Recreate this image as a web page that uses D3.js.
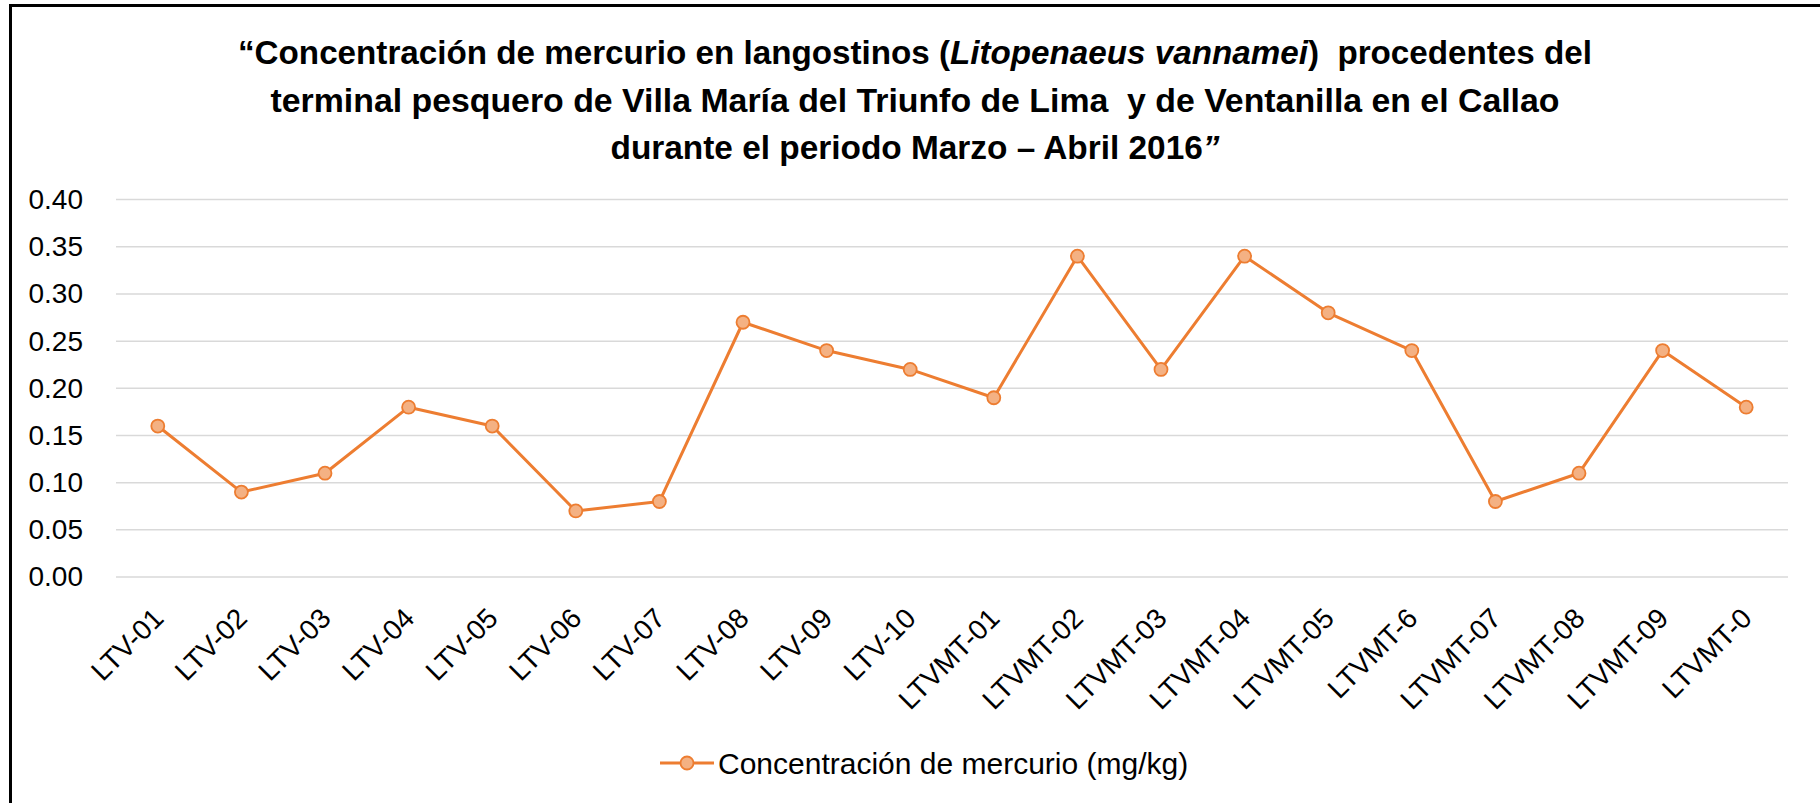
<!DOCTYPE html>
<html>
<head>
<meta charset="utf-8">
<script src="https://cdn.jsdelivr.net/npm/d3@7"></script>
<style>
  body { margin: 0; background: #fff; }
  text { font-family: "Liberation Sans", Arial, sans-serif; fill: #000; }
  .title { font-weight: bold; white-space: pre; }
</style>
</head>
<body>
<div id="chart"></div>
<script>
var categories = ['LTV-01','LTV-02','LTV-03','LTV-04','LTV-05','LTV-06','LTV-07','LTV-08','LTV-09','LTV-10',
  'LTVMT-01','LTVMT-02','LTVMT-03','LTVMT-04','LTVMT-05','LTVMT-6','LTVMT-07','LTVMT-08','LTVMT-09','LTVMT-0'];
var mercurio = [0.16, 0.09, 0.11, 0.18, 0.16, 0.07, 0.08, 0.27, 0.24, 0.22,
  0.19, 0.34, 0.22, 0.34, 0.28, 0.24, 0.08, 0.11, 0.24, 0.18];
var yTicks = [0, 0.05, 0.10, 0.15, 0.20, 0.25, 0.30, 0.35, 0.40];
var seriesName = 'Concentración de mercurio (mg/kg)';

var width = 1820, height = 803;
var plot = {left: 116, right: 1788, top: 199.6, bottom: 577};
var orange = '#ED7D31', orangeLight = '#F4B183';

var svg = d3.select('#chart').append('svg')
  .attr('width', width).attr('height', height);

// frame (only top and left edges are visible)
svg.append('line').attr('x1', 9).attr('x2', width).attr('y1', 5.5).attr('y2', 5.5)
  .attr('stroke', '#000').attr('stroke-width', 3);
svg.append('line').attr('x1', 10.5).attr('x2', 10.5).attr('y1', 4).attr('y2', height)
  .attr('stroke', '#000').attr('stroke-width', 3);

// title
var titleLines = [
  [['“Concentración de mercurio en langostinos (', false], ['Litopenaeus vannamei', true], [')  procedentes del', false]],
  [['terminal pesquero de Villa María del Triunfo de Lima  y de Ventanilla en el Callao', false]],
  [['durante el periodo Marzo – Abril 2016', false], ['”', true]]
];
var titleWidths = [1354, 1289, 609];
var titleBase = [64, 111.5, 159];
titleLines.forEach(function(parts, i){
  var t = svg.append('text').attr('class', 'title')
    .attr('x', 915).attr('y', titleBase[i])
    .attr('text-anchor', 'middle')
    .style('font-size', '33px');
  parts.forEach(function(p){
    t.append('tspan').text(p[0]).style('font-style', p[1] ? 'italic' : 'normal');
  });
  t.attr('textLength', titleWidths[i]).attr('lengthAdjust', 'spacingAndGlyphs');
});

var x = d3.scalePoint()
  .domain(categories)
  .range([plot.left, plot.right])
  .padding(0.5);
var y = d3.scaleLinear()
  .domain([0, 0.40])
  .range([plot.bottom, plot.top]);

// gridlines
svg.append('g').selectAll('line')
  .data(yTicks)
  .enter().append('line')
  .attr('x1', plot.left).attr('x2', plot.right)
  .attr('y1', function(d){ return y(d); })
  .attr('y2', function(d){ return y(d); })
  .attr('stroke', '#D9D9D9').attr('stroke-width', 1.5);

// y axis labels
var yAxis = d3.axisLeft(y).tickValues(yTicks).tickFormat(d3.format('.2f')).tickSize(0).tickPadding(0);
var yg = svg.append('g').attr('transform', 'translate(83,0)').call(yAxis);
yg.select('.domain').remove();
yg.selectAll('text').style('font-size', '28px')
  .style('font-family', '"Liberation Sans", Arial, sans-serif').attr('fill', '#000');

// x axis labels
var xAxis = d3.axisBottom(x).tickSize(0).tickPadding(0);
var xg = svg.append('g').attr('transform', 'translate(0,' + (plot.bottom + 36) + ')').call(xAxis);
xg.select('.domain').remove();
xg.selectAll('text')
  .style('font-size', '28px')
  .style('font-family', '"Liberation Sans", Arial, sans-serif')
  .attr('fill', '#000')
  .attr('text-anchor', 'end')
  .attr('y', 0).attr('dy', '0.35em')
  .attr('transform', 'rotate(-45)');

// series line
var line = d3.line()
  .x(function(d, i){ return x(categories[i]); })
  .y(function(d){ return y(d); });
svg.append('path')
  .datum(mercurio)
  .attr('d', line)
  .attr('fill', 'none')
  .attr('stroke', orange)
  .attr('stroke-width', 3)
  .attr('stroke-linejoin', 'round');

svg.append('g').selectAll('circle')
  .data(mercurio)
  .enter().append('circle')
  .attr('cx', function(d, i){ return x(categories[i]); })
  .attr('cy', function(d){ return y(d); })
  .attr('r', 6.5)
  .attr('fill', orangeLight)
  .attr('stroke', orange)
  .attr('stroke-width', 1.8);

// legend
var legend = svg.append('g').attr('transform', 'translate(660,763)');
legend.append('line').attr('x1', 0).attr('x2', 54).attr('y1', 0).attr('y2', 0)
  .attr('stroke', orange).attr('stroke-width', 3);
legend.append('circle').attr('cx', 27).attr('cy', 0).attr('r', 6.5)
  .attr('fill', orangeLight).attr('stroke', orange).attr('stroke-width', 1.8);
legend.append('text').attr('x', 58).attr('y', 0).attr('dy', '0.35em')
  .style('font-size', '30px')
  .text(seriesName);
</script>
</body>
</html>
